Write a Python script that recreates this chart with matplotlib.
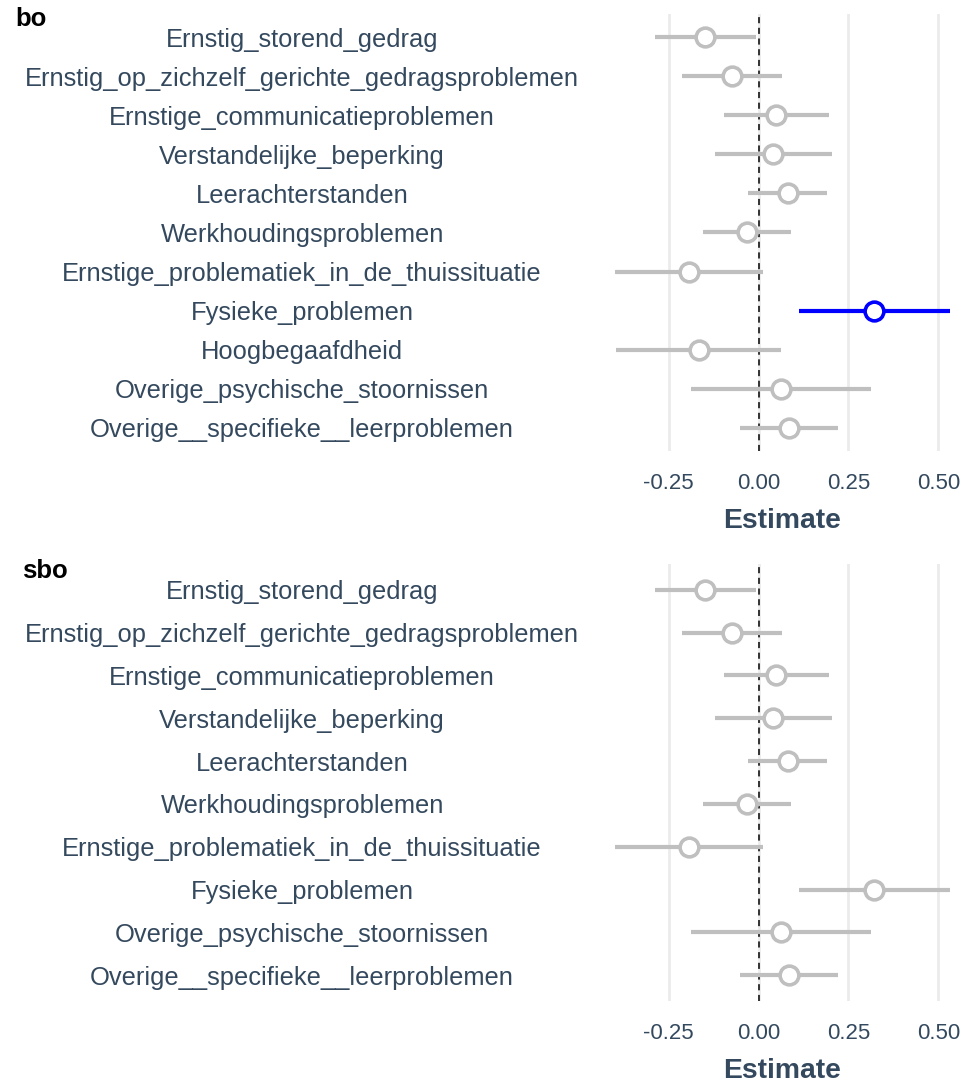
import matplotlib
matplotlib.use("Agg")
import matplotlib.pyplot as plt

plt.rcParams['font.family'] = ['Liberation Sans', 'DejaVu Sans']

TEXT = '#34495e'
GREY = '#bfbfbf'
BLUE = '#0000ff'

# --- data -------------------------------------------------------------
labels_bo = [
    "Ernstig_storend_gedrag",
    "Ernstig_op_zichzelf_gerichte_gedragsproblemen",
    "Ernstige_communicatieproblemen",
    "Verstandelijke_beperking",
    "Leerachterstanden",
    "Werkhoudingsproblemen",
    "Ernstige_problematiek_in_de_thuissituatie",
    "Fysieke_problemen",
    "Hoogbegaafdheid",
    "Overige_psychische_stoornissen",
    "Overige__specifieke__leerproblemen",
]
est_bo = [-0.149, -0.074, 0.049, 0.041, 0.082, -0.033, -0.195, 0.322, -0.166, 0.061, 0.084]
lo_bo = [-0.289, -0.212, -0.096, -0.120, -0.030, -0.154, -0.400, 0.112, -0.396, -0.188, -0.053]
hi_bo = [-0.008, 0.066, 0.195, 0.203, 0.191, 0.089, 0.012, 0.533, 0.063, 0.313, 0.222]
sig_bo = [False, False, False, False, False, False, False, True, False, False, False]

labels_sbo = [
    "Ernstig_storend_gedrag",
    "Ernstig_op_zichzelf_gerichte_gedragsproblemen",
    "Ernstige_communicatieproblemen",
    "Verstandelijke_beperking",
    "Leerachterstanden",
    "Werkhoudingsproblemen",
    "Ernstige_problematiek_in_de_thuissituatie",
    "Fysieke_problemen",
    "Overige_psychische_stoornissen",
    "Overige__specifieke__leerproblemen",
]
est_sbo = [-0.149, -0.074, 0.049, 0.041, 0.082, -0.033, -0.195, 0.322, 0.061, 0.084]
lo_sbo = [-0.289, -0.212, -0.096, -0.120, -0.030, -0.154, -0.400, 0.112, -0.188, -0.053]
hi_sbo = [-0.008, 0.066, 0.195, 0.203, 0.191, 0.089, 0.012, 0.533, 0.313, 0.222]
sig_sbo = [False] * 10

xticks = [-0.25, 0.0, 0.25, 0.50]
xticklabels = ["-0.25", "0.00", "0.25", "0.50"]
xlim = (-0.447, 0.58)

W, H = 970, 1084
fig = plt.figure(figsize=(W / 100, H / 100), dpi=100)

def px_axes(left, top, right, bottom):
    return fig.add_axes([left / W, 1 - bottom / H, (right - left) / W, (bottom - top) / H])

def panel(ax, labels, est, lo, hi, sig, title, title_x, title_y):
    n = len(labels)
    ys = list(range(n))
    ax.set_xlim(*xlim)
    ax.set_ylim(n - 1 + 0.6, -0.6)
    for x in xticks:
        ax.axvline(x, color='#ebebeb', lw=2.0, zorder=0)
    ax.axvline(0, color='black', lw=1.1, ls=(0, (4, 3)), zorder=1)
    for y, e, l, h, s in zip(ys, est, lo, hi, sig):
        c = BLUE if s else GREY
        ax.plot([l, h], [y, y], color=c, lw=3.0, solid_capstyle='butt', zorder=2)
        ax.plot([e], [y], marker='o', ms=13.5, mfc='white', mec=c, mew=2.6, zorder=3)
    ax.set_yticks(ys)
    ax.set_yticklabels(labels, fontsize=18.4, color=TEXT, ha='center')
    ax.tick_params(axis='y', length=0, pad=213)
    ax.set_xticks(xticks)
    ax.set_xticklabels(xticklabels, fontsize=16.0, color=TEXT)
    ax.tick_params(axis='x', length=0, pad=16)
    ax.set_xlabel("Estimate", fontsize=20.3, fontweight='bold', color=TEXT, labelpad=10)
    for sp in ax.spines.values():
        sp.set_visible(False)
    fig.text(title_x / W, 1 - title_y / H, title, fontsize=18.5, fontweight='bold',
             color='black', ha='left', va='center')

ax1 = px_axes(598, 14, 967, 451)
panel(ax1, labels_bo, est_bo, lo_bo, hi_bo, sig_bo, "bo", 15, 19)
ax2 = px_axes(598, 564, 967, 1001)
panel(ax2, labels_sbo, est_sbo, lo_sbo, hi_sbo, sig_sbo, "sbo", 22, 571)

fig.savefig("out.png", dpi=100, facecolor='white')
